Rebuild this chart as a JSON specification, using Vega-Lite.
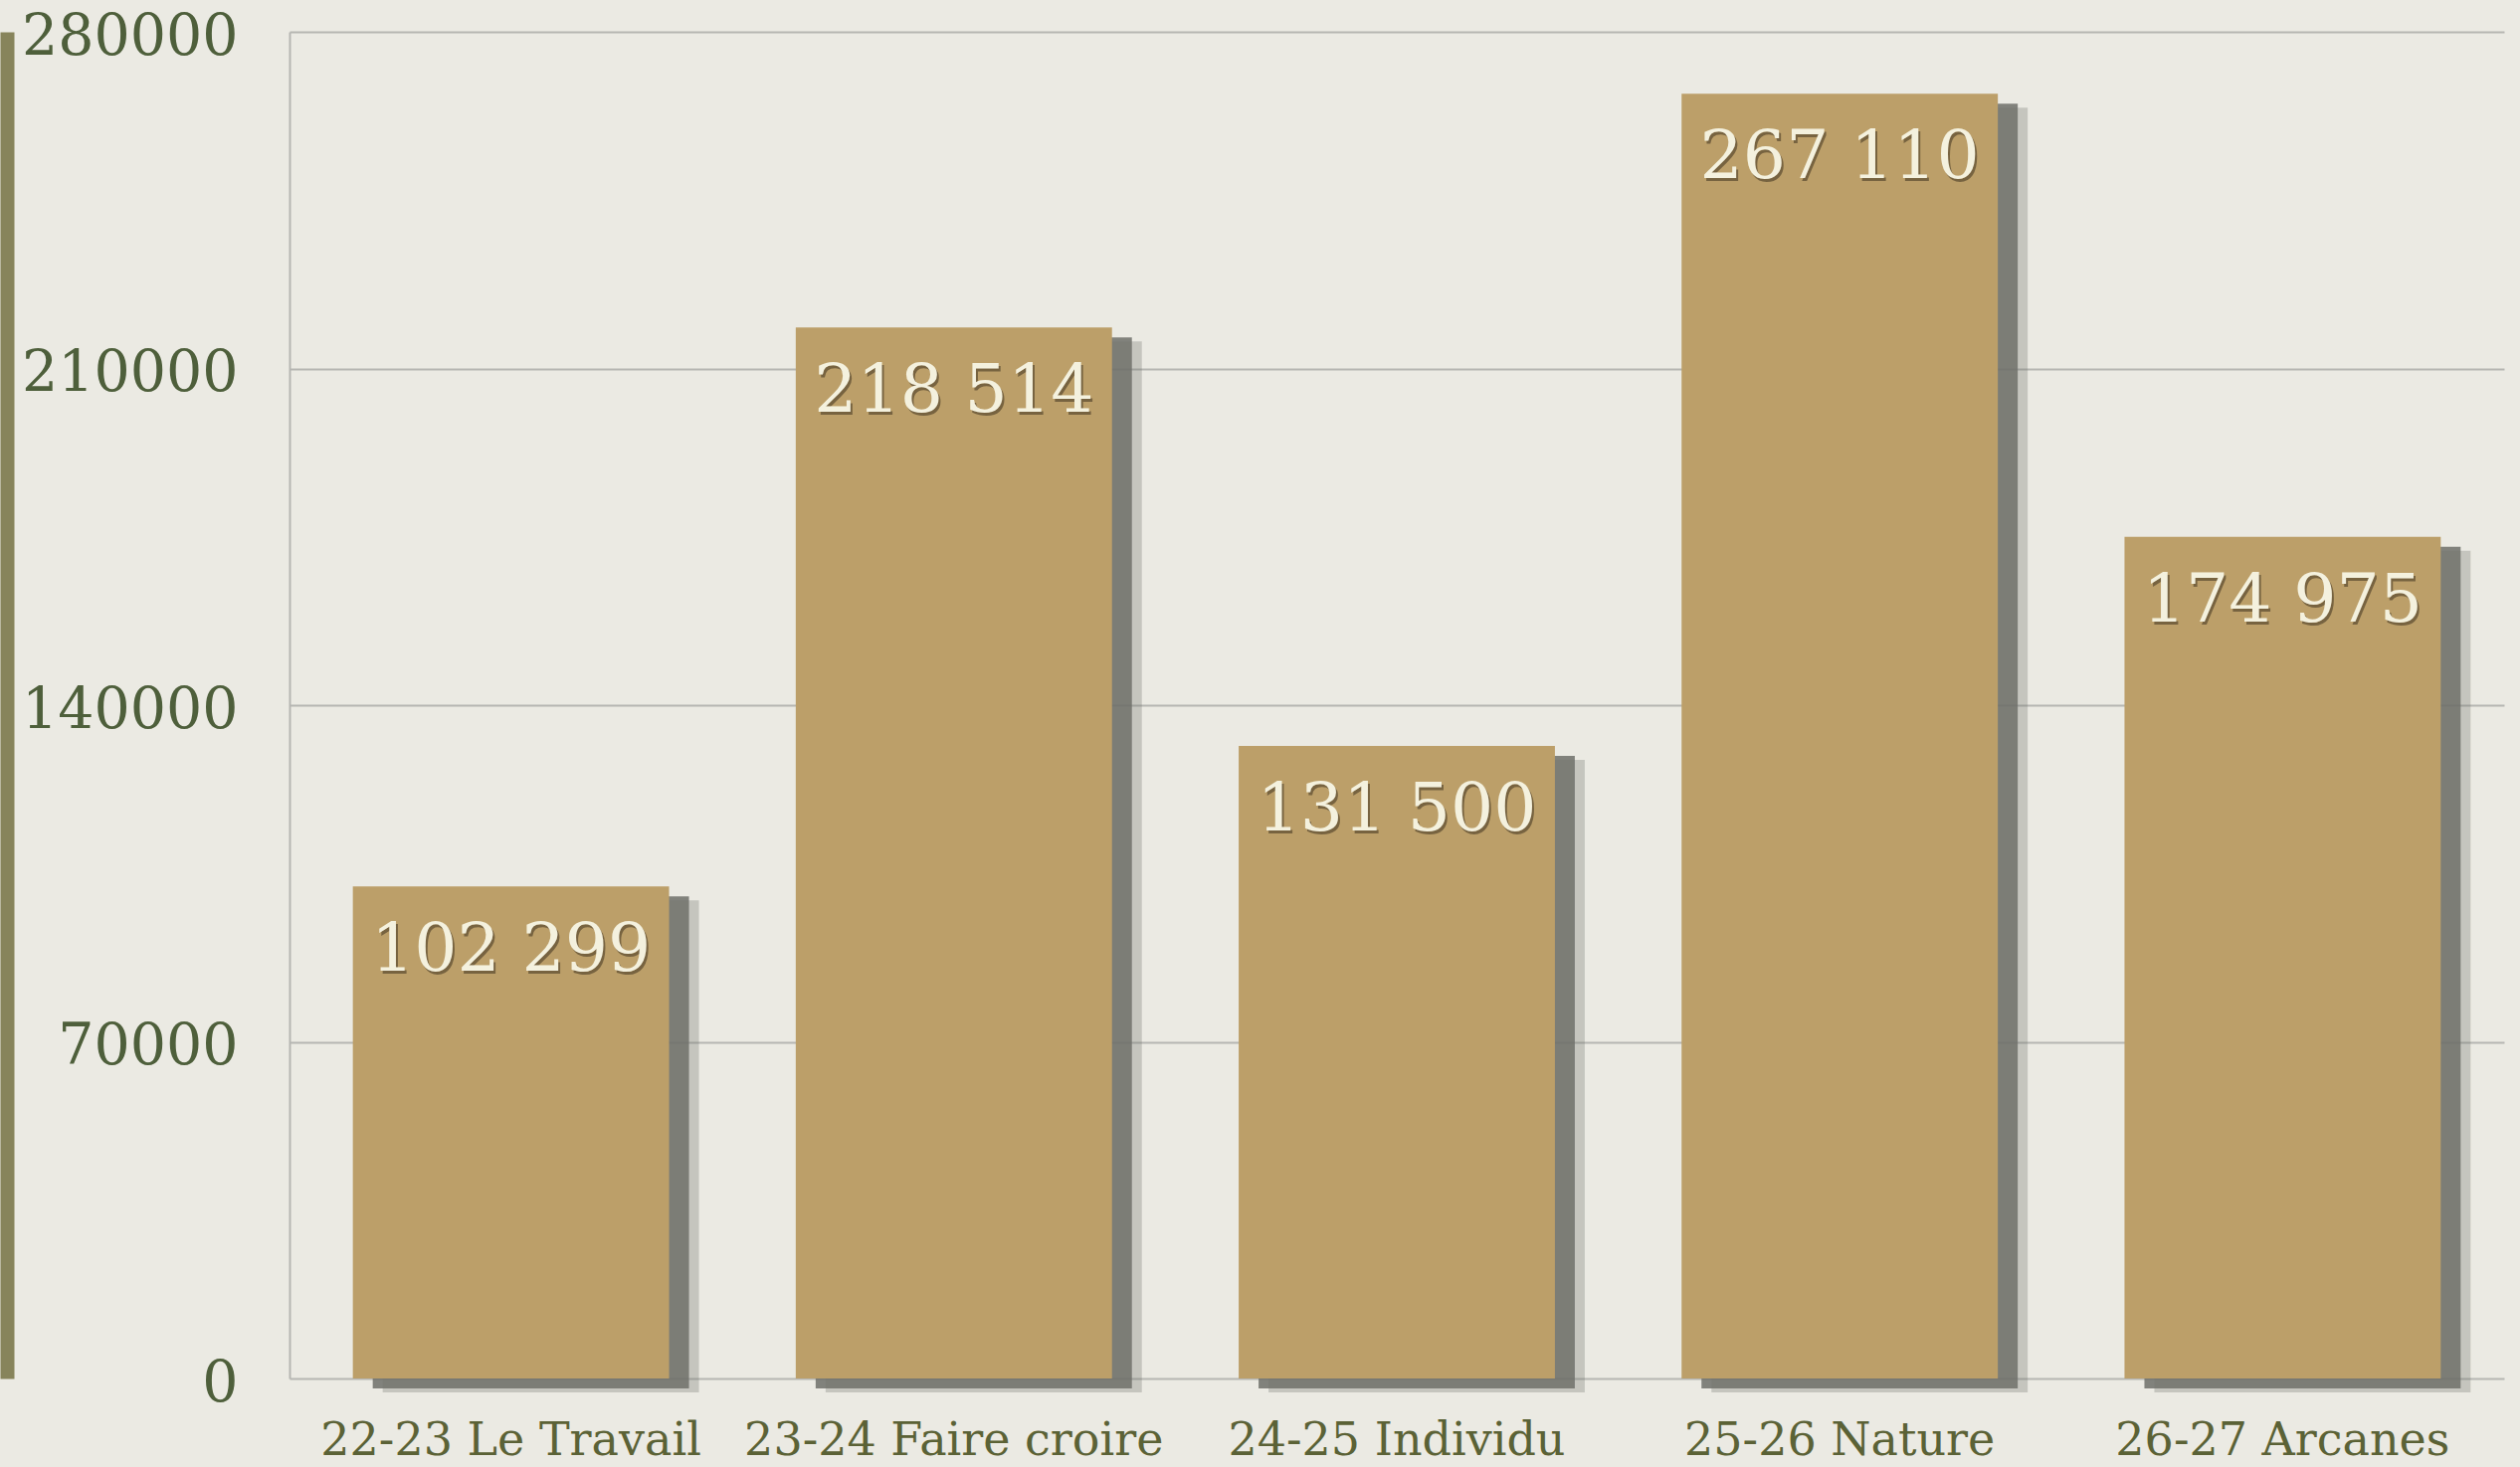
{
  "$schema": "https://vega.github.io/schema/vega-lite/v6.json",
  "width": 2226,
  "height": 1354,
  "autosize": "none",
  "padding": {"left": 291, "top": 32, "right": 16, "bottom": 89},
  "background": "#ebeae3",
  "config": {
    "view": {"stroke": null},
    "locale": {"number": {"decimal": ",", "thousands": " ", "grouping": [3], "currency": ["", " €"]}},
    "axisX": {
      "labelAngle": 0,
      "domain": false,
      "ticks": false,
      "grid": false,
      "labelPadding": 40,
      "labelFont": "DejaVu Serif",
      "labelFontSize": 46,
      "labelColor": "#5b6236",
      "labelLimit": 0
    }
  },
  "data": {
    "values": [
      {"saison": "22-23 Le Travail", "valeur": 102299},
      {"saison": "23-24 Faire croire", "valeur": 218514},
      {"saison": "24-25 Individu", "valeur": 131500},
      {"saison": "25-26 Nature", "valeur": 267110},
      {"saison": "26-27 Arcanes", "valeur": 174975}
    ]
  },
  "encoding": {
    "x": {
      "field": "saison",
      "type": "nominal",
      "sort": null,
      "scale": {"paddingInner": 0.286, "paddingOuter": 0.143},
      "axis": {
        "title": null,
        "labelAngle": 0,
        "labelLimit": 0,
        "labelFont": "DejaVu Serif",
        "labelFontSize": 46,
        "labelColor": "#5b6236",
        "labelPadding": 40
      }
    },
    "y": {
      "field": "valeur",
      "type": "quantitative",
      "scale": {"domain": [0, 280000], "nice": false},
      "axis": null
    }
  },
  "layer": [
    {
      "mark": {"type": "bar", "color": "#6e706a", "opacity": 0.3, "xOffset": 30, "yOffset": 14, "y2Offset": 5}
    },
    {
      "mark": {"type": "bar", "color": "#6e706a", "opacity": 0.85, "xOffset": 20, "yOffset": 10, "y2Offset": 3},
      "encoding": {
        "y": {
          "field": "valeur",
          "type": "quantitative",
          "scale": {"domain": [0, 280000], "nice": false},
          "axis": {
            "orient": "left",
            "offset": 284,
            "domain": true,
            "domainWidth": 14,
            "domainColor": "#87845b",
            "labels": false,
            "ticks": false,
            "grid": false,
            "title": null
          }
        }
      }
    },
    {
      "mark": {"type": "bar", "color": "#bc9f69"},
      "encoding": {
        "y": {
          "field": "valeur",
          "type": "quantitative",
          "scale": {"domain": [0, 280000], "nice": false},
          "axis": {
            "orient": "left",
            "title": null,
            "values": [0, 70000, 140000, 210000, 280000],
            "format": "d",
            "grid": true,
            "gridColor": "#b6b6b2",
            "gridWidth": 2,
            "domain": true,
            "domainColor": "#b6b6b2",
            "domainWidth": 2,
            "ticks": false,
            "labelPadding": 52,
            "labelOffset": 5,
            "labelLimit": 0,
            "labelFont": "DejaVu Serif",
            "labelFontSize": 57,
            "labelColor": "#4e5f3b"
          }
        }
      }
    },
    {
      "mark": {"type": "text", "align": "center", "baseline": "alphabetic", "dx": 2, "dy": 88, "font": "DejaVu Serif", "fontSize": 68, "color": "#3f3320", "opacity": 0.55},
      "encoding": {"text": {"field": "valeur", "type": "quantitative", "format": ",d"}}
    },
    {
      "mark": {"type": "text", "align": "center", "baseline": "alphabetic", "dy": 85, "font": "DejaVu Serif", "fontSize": 68, "color": "#f4f1de"},
      "encoding": {"text": {"field": "valeur", "type": "quantitative", "format": ",d"}}
    }
  ],
  "resolve": {"axis": {"y": "independent"}}
}
